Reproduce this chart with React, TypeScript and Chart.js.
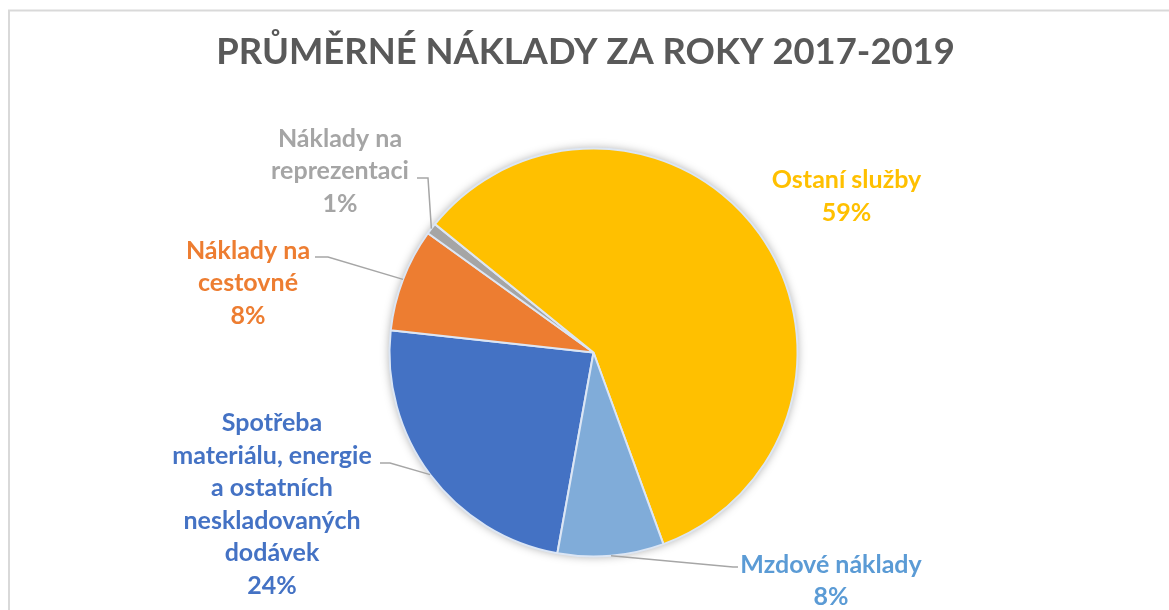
import React, { useEffect, useRef } from "react";
import { Chart, registerables } from "chart.js";

Chart.register(...registerables);

const chartTitle = "PRŮMĚRNÉ NÁKLADY ZA ROKY 2017-2019";
const categories = [
  "Spotřeba materiálu, energie a ostatních neskladovaných dodávek",
  "Náklady na cestovné",
  "Náklady na reprezentaci",
  "Ostaní služby",
  "Mzdové náklady",
];
const labelLines = [
  ["Spotřeba", "materiálu, energie", "a ostatních", "neskladovaných", "dodávek"],
  ["Náklady na", "cestovné"],
  ["Náklady na", "reprezentaci"],
  ["Ostaní služby"],
  ["Mzdové náklady"],
];
const values = [23.9, 8.2, 0.9, 58.6, 8.4];
const sliceColors = ["#4472C4", "#ED7D31", "#A5A5A5", "#FFC000", "#80ACD9"];
const labelColors = ["#4472C4", "#ED7D31", "#A5A5A5", "#FFC000", "#5B9BD5"];

// label placement: offsets from pie centre (px)
const labelLayout = [
  { dx: -321.5, dy: 70.5, leader: [[-203.5, 110.5], [-213.5, 110.5]] },
  { dx: -345.5, dy: -102, leader: [[-265.5, -95.5], [-278.5, -95.5]] },
  { dx: -253.5, dy: -214, leader: [[-165.5, -174.5], [-176.5, -174.5]] },
  { dx: 253, dy: -172.5, leader: [] as number[][] },
  { dx: 237.5, dy: 212, leader: [[139.5, 214.5], [144.5, 214.5]] },
];

const FONT = "Lato, 'Open Sans', sans-serif";
const LABEL_SIZE = 25;
const LINE_GAP = 32.5;

const customPlugin = {
  id: "customPie",
  beforeDraw(chart: any) {
    const ctx = chart.ctx;
    ctx.save();
    ctx.fillStyle = "#ffffff";
    ctx.fillRect(0, 0, chart.width, chart.height);
    ctx.strokeStyle = "#d9d9d9";
    ctx.lineWidth = 2;
    ctx.strokeRect(9, 10.5, 3000, 3000);
    ctx.fillStyle = "#595959";
    ctx.font = `bold 36.4px ${FONT}`;
    ctx.textAlign = "center";
    ctx.textBaseline = "middle";
    ctx.fillText(chartTitle, 585.5, 52);
    ctx.restore();
  },
  beforeDatasetsDraw(chart: any) {
    const meta = chart.getDatasetMeta(0);
    const a = meta.data[0];
    if (!a) return;
    const ctx = chart.ctx;
    ctx.save();
    ctx.shadowColor = "rgba(0,0,0,0.35)";
    ctx.shadowBlur = 10;
    ctx.fillStyle = "#ffffff";
    ctx.beginPath();
    ctx.arc(a.x, a.y, a.outerRadius, 0, Math.PI * 2);
    ctx.fill();
    ctx.restore();
  },
  afterDatasetsDraw(chart: any) {
    const meta = chart.getDatasetMeta(0);
    const ctx = chart.ctx;
    const total = values.reduce((s, v) => s + v, 0);
    ctx.save();
    meta.data.forEach((arc: any, i: number) => {
      const cx = arc.x;
      const cy = arc.y;
      const lay = labelLayout[i];
      if (lay.leader.length) {
        const mid = (arc.startAngle + arc.endAngle) / 2;
        ctx.strokeStyle = "#a6a6a6";
        ctx.lineWidth = 1.5;
        ctx.beginPath();
        ctx.moveTo(cx + arc.outerRadius * Math.cos(mid), cy + arc.outerRadius * Math.sin(mid));
        lay.leader.forEach((p) => ctx.lineTo(cx + p[0], cy + p[1]));
        ctx.stroke();
      }
      const lines = [...labelLines[i], Math.round((values[i] / total) * 100) + "%"];
      ctx.fillStyle = labelColors[i];
      ctx.font = `bold ${LABEL_SIZE}px ${FONT}`;
      ctx.textAlign = "center";
      ctx.textBaseline = "middle";
      lines.forEach((t, k) => {
        ctx.fillText(t, cx + lay.dx, cy + lay.dy + k * LINE_GAP);
      });
    });
    ctx.restore();
  },
};

export default function App() {
  const ref = useRef<HTMLCanvasElement | null>(null);
  useEffect(() => {
    if (!ref.current) return;
    const chart = new Chart(ref.current, {
      type: "pie",
      data: {
        labels: categories,
        datasets: [
          {
            data: values,
            backgroundColor: sliceColors,
            borderColor: "#dce6f4",
            borderWidth: 2,
          },
        ],
      },
      options: {
        responsive: false,
        animation: false,
        rotation: 190.2,
        layout: { padding: { top: 147.5, bottom: 52.5, left: 388.5, right: 370.5 } },
        plugins: {
          legend: { display: false },
          tooltip: { enabled: false },
          title: { display: false },
        },
      },
      plugins: [customPlugin],
    });
    return () => chart.destroy();
  }, []);
  return (
    <div style={{ position: "fixed", left: 0, top: 0, width: 1169, height: 610, background: "#fff" }}>
      <canvas ref={ref} width={1169} height={610} style={{ display: "block" }} />
    </div>
  );
}
